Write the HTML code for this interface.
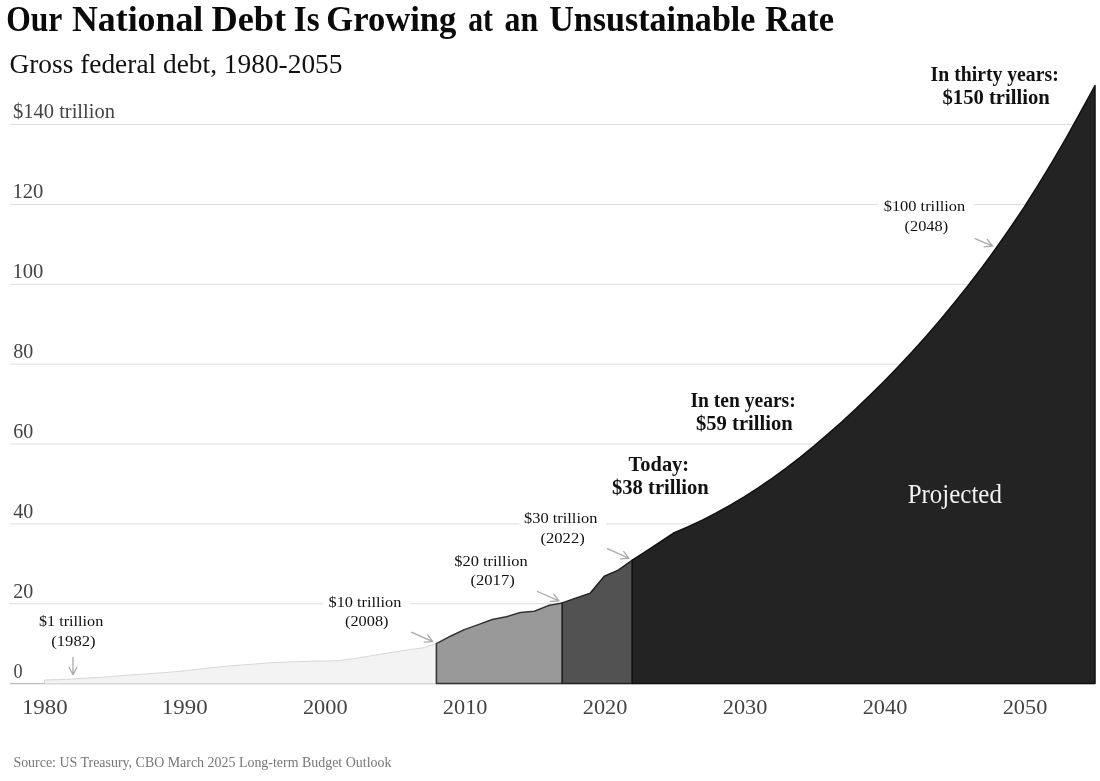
<!DOCTYPE html>
<html><head><meta charset="utf-8"><style>
html,body{margin:0;padding:0;background:#fff;}
svg{display:block;filter:grayscale(1);}
text{font-family:"Liberation Serif",serif;}
</style></head><body>
<svg width="1100" height="781" viewBox="0 0 1100 781">
<rect width="1100" height="781" fill="#fff"/>
<line x1="10" x2="1095" y1="603.74" y2="603.74" stroke="#dedede" stroke-width="1"/><line x1="10" x2="1095" y1="523.88" y2="523.88" stroke="#dedede" stroke-width="1"/><line x1="10" x2="1095" y1="444.02" y2="444.02" stroke="#dedede" stroke-width="1"/><line x1="10" x2="1095" y1="364.16" y2="364.16" stroke="#dedede" stroke-width="1"/><line x1="10" x2="1095" y1="284.30" y2="284.30" stroke="#dedede" stroke-width="1"/><line x1="10" x2="1095" y1="204.44" y2="204.44" stroke="#dedede" stroke-width="1"/><line x1="10" x2="1095" y1="124.58" y2="124.58" stroke="#dedede" stroke-width="1"/>
<line x1="10" x2="1095" y1="683.6" y2="683.6" stroke="#bbb" stroke-width="1.3"/>

<path d="M44.5,683.6 L44.5,680.0 L58.5,679.6 L72.5,679.1 L86.5,678.1 L100.5,677.4 L114.5,676.3 L128.5,675.1 L142.5,674.2 L156.5,673.2 L170.5,672.1 L184.4,670.8 L198.4,669.2 L212.4,667.6 L226.4,666.2 L240.4,665.1 L254.4,664.0 L268.4,662.9 L282.4,662.2 L296.4,661.7 L310.4,661.2 L324.4,661.1 L338.4,660.6 L352.4,658.9 L366.4,656.6 L380.4,654.2 L394.4,652.0 L408.4,649.9 L422.4,647.9 L436.4,643.7 L436.4,683.6 Z" fill="#f3f3f3" stroke="#d8d8d8" stroke-width="1"/>
<path d="M436.4,683.6 L436.4,643.7 L450.4,636.2 L464.3,629.6 L478.3,624.6 L492.3,619.5 L506.3,616.8 L520.3,612.5 L534.3,611.2 L548.3,605.6 L562.3,602.9 L562.3,683.6 Z" fill="#999999" stroke="#333" stroke-width="1.5" stroke-linejoin="round"/>
<path d="M562.3,683.6 L562.3,602.9 L576.3,597.9 L590.3,593.1 L604.3,576.2 L618.3,570.1 L632.3,560.1 L632.3,683.6 Z" fill="#525252" stroke="#222" stroke-width="1.5" stroke-linejoin="round"/>
<path d="M632.3,683.6 L632.3,560.1 L646.3,551.2 L660.3,542.0 L674.3,532.6 L688.3,526.8 L702.3,520.1 L716.3,512.9 L730.3,505.1 L744.2,496.8 L758.2,487.8 L772.2,478.3 L786.2,468.1 L800.2,457.3 L814.2,445.9 L828.2,433.9 L842.2,421.5 L856.2,408.5 L870.2,395.1 L884.2,381.2 L898.2,366.7 L912.2,351.8 L926.2,336.2 L940.2,320.0 L954.2,303.1 L968.2,285.5 L982.2,267.2 L996.2,248.0 L1010.2,228.0 L1024.2,207.1 L1038.1,185.2 L1052.1,162.2 L1066.1,138.2 L1080.1,112.9 L1095.0,85.5 L1095.0,683.6 Z" fill="#232323" stroke="#111" stroke-width="1.5" stroke-linejoin="round"/>

<rect x="323.4" y="590" width="87.10000000000002" height="22" fill="#fff"/><rect x="519.5" y="507" width="86.60000000000002" height="22" fill="#fff"/><rect x="878.3" y="195" width="95.40000000000009" height="21" fill="#fff"/>
<path d="M73.0,657.4 L73.0,674.8 M69.0,667.3 L73.0,674.8 L77.0,667.3" fill="none" stroke="#aaa" stroke-width="1.3" stroke-linecap="round" stroke-linejoin="round"/><path d="M411.8,632.3 L432.8,641.6 M424.3,642.2 L432.8,641.6 L427.6,634.9" fill="none" stroke="#aaa" stroke-width="1.3" stroke-linecap="round" stroke-linejoin="round"/><path d="M537.4,591.5 L559.0,600.8 M550.5,601.5 L559.0,600.8 L553.7,594.2" fill="none" stroke="#aaa" stroke-width="1.3" stroke-linecap="round" stroke-linejoin="round"/><path d="M607.4,548.6 L629.0,558.3 M620.5,558.9 L629.0,558.3 L623.8,551.6" fill="none" stroke="#aaa" stroke-width="1.3" stroke-linecap="round" stroke-linejoin="round"/><path d="M975.2,238.6 L992.6,246.2 M984.1,246.9 L992.6,246.2 L987.3,239.5" fill="none" stroke="#aaa" stroke-width="1.3" stroke-linecap="round" stroke-linejoin="round"/>
<text transform="translate(6.20,30.90) scale(0.9013,1)" font-size="35" font-weight="bold" fill="#0a0a0a">Our</text><text transform="translate(72.00,30.90) scale(1.0232,1)" font-size="35" font-weight="bold" fill="#0a0a0a">National</text><text transform="translate(211.50,30.90) scale(1.0377,1)" font-size="35" font-weight="bold" fill="#0a0a0a">Debt</text><text transform="translate(293.75,30.90) scale(0.9485,1)" font-size="35" font-weight="bold" fill="#0a0a0a">Is</text><text transform="translate(326.21,30.90) scale(0.9901,1)" font-size="35" font-weight="bold" fill="#0a0a0a">Growing</text><text transform="translate(468.25,30.90) scale(0.8491,1)" font-size="35" font-weight="bold" fill="#0a0a0a">at</text><text transform="translate(504.59,30.90) scale(0.9099,1)" font-size="35" font-weight="bold" fill="#0a0a0a">an</text><text transform="translate(549.20,30.90) scale(0.9727,1)" font-size="35" font-weight="bold" fill="#0a0a0a">Unsustainable</text><text transform="translate(765.00,30.90) scale(0.9866,1)" font-size="35" font-weight="bold" fill="#0a0a0a">Rate</text><text transform="translate(9.41,72.60) scale(0.9927,1)" font-size="27.6" font-weight="normal" fill="#111">Gross federal debt, 1980-2055</text><text transform="translate(13.00,118.40) scale(0.9961,1)" font-size="20.6" font-weight="normal" fill="#444">$140 trillion</text><text transform="translate(12.40,198.20) scale(1.0002,1)" font-size="20.6" font-weight="normal" fill="#444">120</text><text transform="translate(12.40,278.10) scale(1.0002,1)" font-size="20.6" font-weight="normal" fill="#444">100</text><text transform="translate(13.30,358.00) scale(0.9706,1)" font-size="20.6" font-weight="normal" fill="#444">80</text><text transform="translate(13.30,437.80) scale(0.9706,1)" font-size="20.6" font-weight="normal" fill="#444">60</text><text transform="translate(13.30,517.70) scale(0.9706,1)" font-size="20.6" font-weight="normal" fill="#444">40</text><text transform="translate(13.30,597.60) scale(0.9706,1)" font-size="20.6" font-weight="normal" fill="#444">20</text><text transform="translate(13.60,677.50) scale(0.8800,1)" font-size="20.6" font-weight="normal" fill="#444">0</text><text transform="translate(21.92,714.30) scale(1.0789,1)" font-size="21.2" font-weight="normal" fill="#444">1980</text><text transform="translate(161.87,714.30) scale(1.0789,1)" font-size="21.2" font-weight="normal" fill="#444">1990</text><text transform="translate(302.90,714.30) scale(1.0531,1)" font-size="21.2" font-weight="normal" fill="#444">2000</text><text transform="translate(442.85,714.30) scale(1.0531,1)" font-size="21.2" font-weight="normal" fill="#444">2010</text><text transform="translate(582.80,714.30) scale(1.0531,1)" font-size="21.2" font-weight="normal" fill="#444">2020</text><text transform="translate(722.75,714.30) scale(1.0531,1)" font-size="21.2" font-weight="normal" fill="#444">2030</text><text transform="translate(862.70,714.30) scale(1.0531,1)" font-size="21.2" font-weight="normal" fill="#444">2040</text><text transform="translate(1002.65,714.30) scale(1.0531,1)" font-size="21.2" font-weight="normal" fill="#444">2050</text><text transform="translate(13.40,766.70) scale(0.9820,1)" font-size="14.2" font-weight="normal" fill="#777">Source: US Treasury, CBO March 2025 Long-term Budget Outlook</text><text transform="translate(39.00,625.60) scale(1.0379,1)" font-size="15.6" font-weight="normal" fill="#111">$1 trillion</text><text transform="translate(51.30,645.60) scale(1.0633,1)" font-size="15.6" font-weight="normal" fill="#111">(1982)</text><text transform="translate(328.50,606.60) scale(1.0452,1)" font-size="15.6" font-weight="normal" fill="#111">$10 trillion</text><text transform="translate(345.00,626.40) scale(1.0464,1)" font-size="15.6" font-weight="normal" fill="#111">(2008)</text><text transform="translate(454.30,565.50) scale(1.0509,1)" font-size="15.6" font-weight="normal" fill="#111">$20 trillion</text><text transform="translate(470.50,585.20) scale(1.0633,1)" font-size="15.6" font-weight="normal" fill="#111">(2017)</text><text transform="translate(524.00,522.90) scale(1.0523,1)" font-size="15.6" font-weight="normal" fill="#111">$30 trillion</text><text transform="translate(540.50,542.60) scale(1.0633,1)" font-size="15.6" font-weight="normal" fill="#111">(2022)</text><text transform="translate(883.70,210.70) scale(1.0523,1)" font-size="15.6" font-weight="normal" fill="#111">$100 trillion</text><text transform="translate(904.60,231.40) scale(1.0464,1)" font-size="15.6" font-weight="normal" fill="#111">(2048)</text><text transform="translate(628.60,471.20) scale(1.0057,1)" font-size="20.3" font-weight="bold" fill="#111">Today:</text><text transform="translate(612.00,494.10) scale(1.0166,1)" font-size="20.3" font-weight="bold" fill="#111">$38 trillion</text><text transform="translate(690.40,406.60) scale(0.9635,1)" font-size="20.3" font-weight="bold" fill="#111">In ten years:</text><text transform="translate(696.00,429.60) scale(1.0145,1)" font-size="20.3" font-weight="bold" fill="#111">$59 trillion</text><text transform="translate(930.60,80.80) scale(0.9719,1)" font-size="20.3" font-weight="bold" fill="#111">In thirty years:</text><text transform="translate(942.50,104.30) scale(1.0184,1)" font-size="20.3" font-weight="bold" fill="#111">$150 trillion</text><text transform="translate(907.70,502.50) scale(0.9417,1)" font-size="26.5" font-weight="normal" fill="#f2f2f2">Projected</text>
</svg>
</body></html>
